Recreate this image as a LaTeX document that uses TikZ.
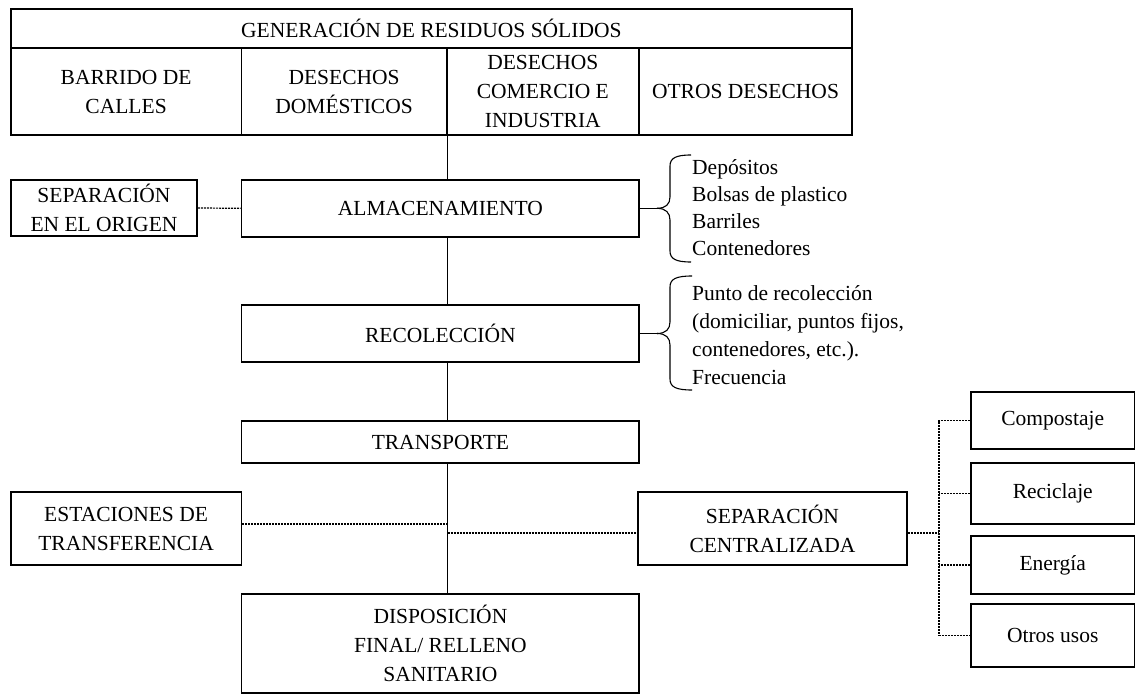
\documentclass[tikz,border=0pt]{standalone}
\usepackage{fontspec}
\setmainfont{Liberation Serif}
\begin{document}
\begin{tikzpicture}[x=1pt,y=-1pt,
 box/.style={draw, line width=1.8pt, fill=white, inner sep=0pt, align=center, font=\fontsize{21.5}{29}\selectfont},
 conn/.style={line width=1.5pt},
 dots/.style={line width=1.2pt, dash pattern=on 2pt off 1pt},
 brc/.style={line width=1.1pt},
 lst/.style={anchor=west, align=left, inner sep=0pt}]
\useasboundingbox (0,0) rectangle (1136,695);

% table
\node[box, minimum width=841.3pt, minimum height=39pt] (gen) at (431.35,28.5) {GENERACIÓN DE RESIDUOS SÓLIDOS};
\node[box, minimum width=230.8pt, minimum height=87pt] (bar) at (126.1,91.5) {BARRIDO DE\\CALLES};
\node[box, minimum width=205.2pt, minimum height=87pt] (dom) at (344.1,91.5) {DESECHOS\\DOMÉSTICOS};
\node[box, minimum width=192.3pt, minimum height=87pt] (com) at (542.85,91.5) {DESECHOS\\COMERCIO E\\INDUSTRIA};
\node[box, minimum width=213pt, minimum height=87pt] (otr) at (745.5,91.5) {OTROS DESECHOS};

\coordinate (m) at (dom.south east);

% main column
\node[box, minimum width=186.6pt, minimum height=56pt] (sepori) at (104,208) {SEPARACIÓN\\EN EL ORIGEN};
\node[box, minimum width=397.8pt, minimum height=56.7pt] (almac) at (440.4,208.3) {ALMACENAMIENTO};
\node[box, minimum width=397.8pt, minimum height=57pt] (recol) at (440.4,333.5) {RECOLECCIÓN};
\node[box, minimum width=397.8pt, minimum height=42pt] (transp) at (440.4,442) {TRANSPORTE};
\node[box, minimum width=230.8pt, minimum height=73pt] (estac) at (126.1,528.5) {ESTACIONES DE\\TRANSFERENCIA};
\node[box, minimum width=269pt, minimum height=73pt] (sepcen) at (772.5,528.5) {SEPARACIÓN\\CENTRALIZADA};
\node[box, minimum width=397.8pt, minimum height=99pt] (dispo) at (440.4,643.5) {DISPOSICIÓN\\FINAL/ RELLENO\\SANITARIO};

% right boxes
\node[box, minimum width=163.5pt, minimum height=57pt] (compost) at (1052.75,420.5) {Compostaje};
\node[box, minimum width=163.5pt, minimum height=61pt] (recic) at (1052.75,493.5) {Reciclaje};
\node[box, minimum width=163.5pt, minimum height=58pt] (energ) at (1052.75,565) {Energía};
\node[box, minimum width=163.5pt, minimum height=63pt] (otrosu) at (1052.75,635.5) {Otros usos};

% main vertical connectors
\draw[conn] (m) -- (almac.north -| m);
\draw[conn] (almac.south -| m) -- (recol.north -| m);
\draw[conn] (recol.south -| m) -- (transp.north -| m);
\draw[conn] (transp.south -| m) -- (dispo.north -| m);

% dotted connectors
\draw[dots] (sepori.east) -- (almac.west);
\draw[dots] ([yshift=4.5pt]estac.east) -- ([yshift=4.5pt]estac.east -| m);
\draw[dots] ([yshift=-4.5pt]sepcen.west -| m) -- ([yshift=-4.5pt]sepcen.west);

\coordinate (bx) at (939,0);
\draw[dots] (compost.west) -- (compost.west -| bx) -- (otrosu.west -| bx) -- (otrosu.west);
\draw[dots] (recic.west) -- (recic.west -| bx);
\draw[dots] (energ.west) -- (energ.west -| bx);
\draw[dots] ([yshift=-4.5pt]sepcen.east) -- ([yshift=-4.5pt]sepcen.east -| bx);

% braces
\draw[conn] (almac.east) -- (657,208.3) coordinate (b1);
\draw[brc] (b1) .. controls (666,208.3) and (670,204) .. (670,197) -- (670,166) .. controls (670,158) and (676,155) .. (691,155);
\draw[brc] (b1) .. controls (666,208.3) and (670,213) .. (670,220) -- (670,251) .. controls (670,259) and (676,262) .. (691,262);
\draw[conn] (recol.east) -- (657,333.5) coordinate (b2);
\draw[brc] (b2) .. controls (666,333.5) and (670,329) .. (670,322) -- (670,287) .. controls (670,279) and (676,276) .. (692,276);
\draw[brc] (b2) .. controls (666,333.5) and (670,338) .. (670,345) -- (670,379) .. controls (670,387) and (676,390) .. (692,390);

\node[lst, font=\fontsize{21.5}{27}\selectfont] (l1) at (692,207.5) {Depósitos\\Bolsas de plastico\\Barriles\\Contenedores};
\node[lst, font=\fontsize{21.5}{28}\selectfont] (l2) at (692,335) {Punto de recolección\\(domiciliar, puntos fijos,\\contenedores, etc.).\\Frecuencia};
\end{tikzpicture}
\end{document}
